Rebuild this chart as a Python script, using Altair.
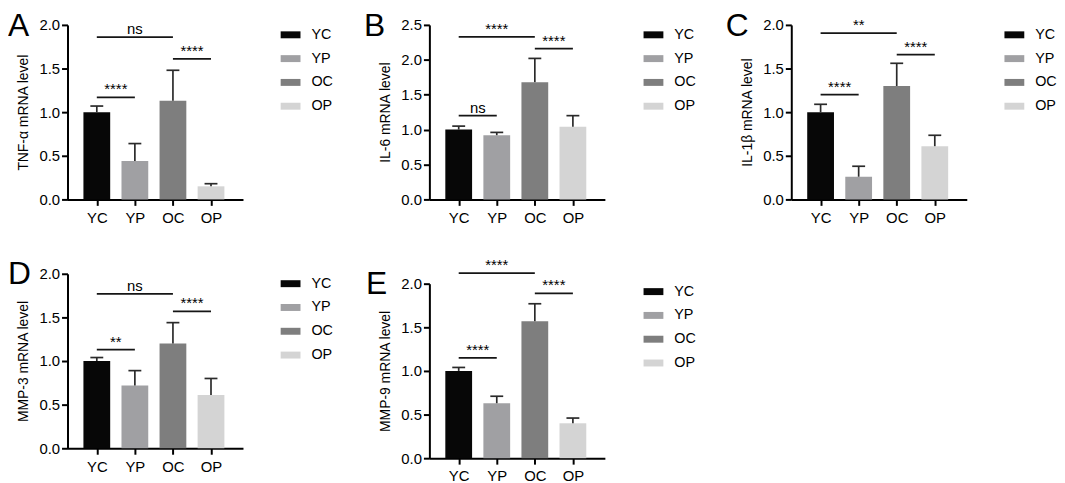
import json
import altair as alt
import pandas as pd

# ---------------- data ----------------
groups = ["YC", "YP", "OC", "OP"]
group_colors = ["#070707", "#a0a0a3", "#7e7e7e", "#d4d4d4"]

panel_letters = ["A", "B", "C", "D", "E"]
y_titles = ["TNF-α mRNA level", "IL-6 mRNA level", "IL-1β mRNA level",
            "MMP-3 mRNA level", "MMP-9 mRNA level"]
y_max = [2.0, 2.5, 2.0, 2.0, 2.0]

tnf_mean = [1.00, 0.44, 1.13, 0.15]
tnf_err = [0.07, 0.20, 0.35, 0.03]
il6_mean = [1.00, 0.92, 1.68, 1.04]
il6_err = [0.05, 0.04, 0.34, 0.16]
il1b_mean = [1.00, 0.26, 1.30, 0.61]
il1b_err = [0.09, 0.12, 0.26, 0.125]
mmp3_mean = [1.00, 0.72, 1.20, 0.61]
mmp3_err = [0.04, 0.17, 0.24, 0.19]
mmp9_mean = [1.00, 0.63, 1.57, 0.40]
mmp9_err = [0.04, 0.08, 0.20, 0.06]

# significance brackets: from group index -> to group index, height, label
bracket_from = [0, 0, 2]
bracket_to = [1, 2, 3]
tnf_sig_y = [1.17, 1.86, 1.61]
tnf_sig = ["****", "ns", "****"]
il6_sig_y = [1.20, 2.33, 2.16]
il6_sig = ["ns", "****", "****"]
il1b_sig_y = [1.20, 1.905, 1.66]
il1b_sig = ["****", "**", "****"]
mmp3_sig_y = [1.13, 1.77, 1.57]
mmp3_sig = ["**", "ns", "****"]
mmp9_sig_y = [1.15, 2.12, 1.89]
mmp9_sig = ["****", "****", "****"]

# ---------------- styling / layout ----------------
FONT = "Liberation Sans"
PW = 177
ERR_COLOR = "#2a2a2a"
LINE_COLOR = "#151515"
layouts = [
    dict(h=176, gap=0, lx=-60, ly=11.5, legx=215, legy=0),
    dict(h=176, gap=0, lx=-66, ly=11.5, legx=216, legy=0),
    dict(h=176, gap=0, lx=-66, ly=11.5, legx=215, legy=0),
    dict(h=176, gap=0, lx=-60, ly=10, legx=215, legy=0),
    dict(h=186, gap=10, lx=-64, ly=20, legx=216, legy=8),
]


def make_panel(k, means, errs, sig_y, sig_txt):
    lay = layouts[k]
    h = lay["h"]
    bars = pd.DataFrame({"group": groups, "pos": list(range(len(groups))),
                         "mean": means, "err": errs})
    bars["top"] = bars["mean"] + bars["err"]
    sig = pd.DataFrame({"a": bracket_from, "b": bracket_to, "y": sig_y, "label": sig_txt})
    sig["mid"] = (sig["a"] + sig["b"]) / 2

    xscale = alt.Scale(domain=[-0.64, 3.71], nice=False, zero=False)
    yscale = alt.Scale(domain=[0, y_max[k]], range=[h, lay["gap"]], nice=False, zero=True)
    xaxis = alt.Axis(values=list(range(len(groups))),
                     labelExpr=f"{json.dumps(groups)}[datum.value]",
                     title=None, labelFlush=False, grid=False)
    yvals = [round(0.5 * i, 1) for i in range(int(round(y_max[k] / 0.5)) + 1)]
    yaxis = alt.Axis(values=yvals, format=".1f", title=y_titles[k], grid=False,
                     labelFlush=False, labelOverlap=False)

    def X(f):
        return alt.X(f, type="quantitative", scale=xscale, axis=xaxis)

    def Y(f):
        return alt.Y(f, type="quantitative", scale=yscale, axis=yaxis)

    bar = alt.Chart(bars).mark_bar(size=27).encode(
        x=X("pos"), y=Y("mean"),
        color=alt.Color("group:N", scale=alt.Scale(domain=groups, range=group_colors),
                        legend=alt.Legend(title=None, orient="none",
                                          legendX=lay["legx"], legendY=lay["legy"])),
    )
    whisker = alt.Chart(bars).mark_rule(color=ERR_COLOR, strokeWidth=1.7).encode(
        x=X("pos"), y=Y("mean"), y2="top")
    cap = alt.Chart(bars).mark_point(shape="M-1,0L1,0", size=169, filled=False,
                                     strokeWidth=1.7, color=ERR_COLOR, opacity=1).encode(
        x=X("pos"), y=Y("top"))
    brk = alt.Chart(sig).mark_rule(color=LINE_COLOR, strokeWidth=1.8).encode(
        x=X("a"), x2="b", y=Y("y"))
    txt = alt.Chart(sig).mark_text(font=FONT, fontSize=15, dy=-3, baseline="alphabetic",
                                   align="center", color="black").encode(
        x=X("mid"), y=Y("y"), text="label:N")
    letter = alt.Chart(pd.DataFrame({"letter": [panel_letters[k]]})).mark_text(
        font=FONT, fontSize=32, align="left", baseline="alphabetic", color="black").encode(
        x=alt.value(lay["lx"]), y=alt.value(lay["ly"]), text="letter:N")
    return alt.layer(bar, whisker, cap, brk, txt, letter).properties(width=PW, height=h)


panels = [
    make_panel(0, tnf_mean, tnf_err, tnf_sig_y, tnf_sig),
    make_panel(1, il6_mean, il6_err, il6_sig_y, il6_sig),
    make_panel(2, il1b_mean, il1b_err, il1b_sig_y, il1b_sig),
    make_panel(3, mmp3_mean, mmp3_err, mmp3_sig_y, mmp3_sig),
    make_panel(4, mmp9_mean, mmp9_err, mmp9_sig_y, mmp9_sig),
]

chart = alt.concat(*panels, columns=3, spacing={"row": 75, "column": 188},
                   bounds="flush").resolve_scale(
    color="independent", x="independent", y="independent"
).properties(
    padding={"left": 0, "top": 0, "right": 0, "bottom": 0}
).configure_view(stroke=None).configure_axis(
    domainColor="black", domainWidth=2, tickColor="black", tickWidth=2, tickSize=6,
    labelFont=FONT, labelFontSize=15, labelColor="black",
    titleFont=FONT, titleFontSize=14, titleFontWeight="normal", titleColor="black",
    grid=False,
).configure_axisY(labelPadding=2, titlePadding=8).configure_axisX(labelPadding=5).configure_legend(
    labelFont=FONT, labelFontSize=14.5, labelColor="black", labelOffset=11,
    symbolType="M-1,-0.35H1V0.35H-1Z", symbolSize=400, symbolStrokeWidth=0,
    symbolOpacity=1, rowPadding=7, padding=0,
)

chart.save("out.html", embed_options={"renderer": "svg", "actions": False})
